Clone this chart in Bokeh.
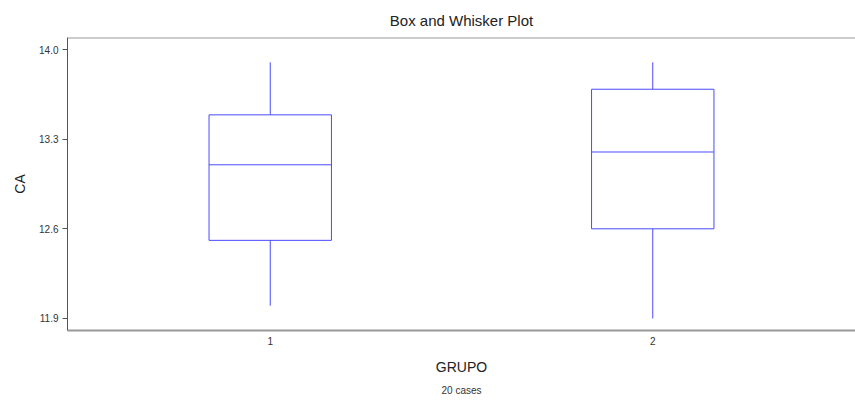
from bokeh.plotting import figure
from bokeh.models import Range1d, FixedTicker, NumeralTickFormatter, Span, Title
from bokeh.embed import file_html
from bokeh.resources import INLINE

# Box-and-whisker summary of CA by GRUPO
groups = [1, 2]
group_labels = ["1", "2"]
whisker_low = [12.00, 11.90]
q1 = [12.51, 12.60]
median = [13.10, 13.20]
q3 = [13.49, 13.69]
whisker_high = [13.90, 13.90]
y_ticks = [11.9, 12.6, 13.3, 14.0]
n_cases = 20

FONT = "Liberation Sans"
BOX_COLOR = "#4a4aff"
half_w = 0.16

y_lo, y_hi = 11.806, 14.094

p = figure(
    width=855, height=401,
    x_range=Range1d(0.47, 2.53), y_range=Range1d(y_lo, y_hi),
    output_backend="svg", toolbar_location=None,
    min_border_left=67, min_border_right=0, min_border_top=37, min_border_bottom=71,
)
p.outline_line_color = None
p.grid.visible = False
p.background_fill_color = "white"
p.border_fill_color = "white"

p.title.text = "Box and Whisker Plot"
p.title.align = "center"
p.title.text_font = FONT
p.title.text_font_size = "15px"
p.title.text_font_style = "normal"
p.title.text_color = "#222222"
p.title.standoff = 17

lefts = [g - half_w for g in groups]
rights = [g + half_w for g in groups]

p.quad(left=lefts, right=rights, bottom=q1, top=q3,
       fill_color=None, line_color=BOX_COLOR, line_width=1)
p.segment(x0=lefts, x1=rights, y0=median, y1=median,
          line_color=BOX_COLOR, line_width=1)
p.segment(x0=groups, x1=groups, y0=q3, y1=whisker_high,
          line_color=BOX_COLOR, line_width=1)
p.segment(x0=groups, x1=groups, y0=q1, y1=whisker_low,
          line_color=BOX_COLOR, line_width=1)

# top border of the frame
p.add_layout(Span(location=y_hi, dimension="width", line_color="#999999", line_width=2))

# y axis
ya = p.yaxis[0]
ya.ticker = FixedTicker(ticks=y_ticks)
ya.formatter = NumeralTickFormatter(format="0.0")
ya.axis_label = "CA"
ya.axis_label_text_font = FONT
ya.axis_label_text_font_size = "14px"
ya.axis_label_text_font_style = "normal"
ya.axis_label_text_color = "#222222"
ya.axis_label_standoff = 8
ya.major_label_text_font = FONT
ya.major_label_text_font_size = "10px"
ya.major_label_text_color = "#333333"
ya.major_label_standoff = 4
ya.axis_line_color = "#555555"
ya.axis_line_width = 1
ya.major_tick_line_color = "#555555"
ya.major_tick_out = 5
ya.major_tick_in = 0
ya.minor_tick_line_color = None

# x axis
xa = p.xaxis[0]
xa.ticker = FixedTicker(ticks=groups)
xa.major_label_overrides = {g: lab for g, lab in zip(groups, group_labels)}
xa.axis_label = "GRUPO"
xa.axis_label_text_font = FONT
xa.axis_label_text_font_size = "14px"
xa.axis_label_text_font_style = "normal"
xa.axis_label_text_color = "#222222"
xa.axis_label_standoff = 11
xa.major_label_text_font = FONT
xa.major_label_text_font_size = "10px"
xa.major_label_text_color = "#333333"
xa.major_label_standoff = 0
xa.axis_line_color = "#999999"
xa.axis_line_width = 2
xa.major_tick_line_color = None
xa.minor_tick_line_color = None

p.add_layout(Title(text=f"{n_cases} cases", align="center", text_font=FONT,
                   text_font_size="10px", text_font_style="normal",
                   text_color="#333333"), "below")

open("out.html", "w").write(file_html(p, INLINE))
